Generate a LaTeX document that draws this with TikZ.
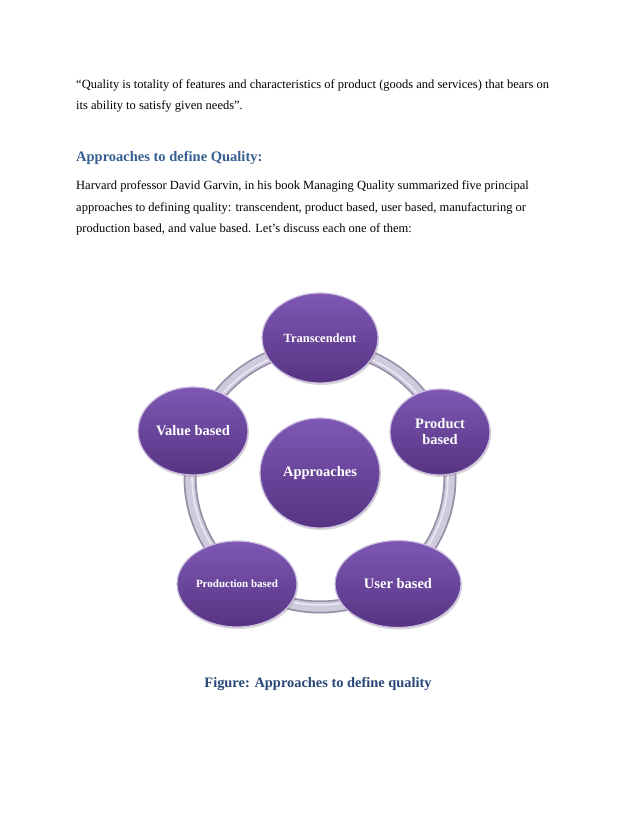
\documentclass[tikz,border=0pt]{standalone}
\usepackage{fontspec}
\setmainfont{Liberation Serif}
\usetikzlibrary{shapes.geometric,shadows}
\definecolor{headblue}{RGB}{54,95,145}
\definecolor{capblue}{RGB}{40,70,120}
\definecolor{plumtop}{RGB}{126,88,180}
\definecolor{plumbot}{RGB}{86,52,130}
\definecolor{plumrim}{RGB}{205,190,225}
\definecolor{ringmid}{RGB}{208,202,222}
\definecolor{ringedge}{RGB}{150,142,165}
\tikzset{
  bodytext/.style={anchor=base west,inner sep=0pt,align=left,font=\fontsize{12.5}{21.5}\selectfont},
  approach/.style={ellipse,draw=plumrim,line width=1.2pt,top color=plumtop,bottom color=plumbot,
    text=white,font=\bfseries,align=center,inner sep=0pt,
    drop shadow={opacity=0.3,shadow xshift=1pt,shadow yshift=-2pt}}
}
\begin{document}
\begin{tikzpicture}[x=1pt,y=-1pt]
      \useasboundingbox[fill=white] (0,0) rectangle (638,826);
      % text above the figure (base = last line)
      \node[bodytext] (quote) at (76,110) {``Quality is totality of features and characteristics of product (goods and services) that bears on\\its ability to satisfy given needs''.};
      \node[bodytext,font=\fontsize{14.5}{17}\selectfont\bfseries,text=headblue] (head) at (76,162) {Approaches to define Quality:};
      \node[bodytext] (para) at (76,233) {Harvard professor David Garvin, in his book Managing Quality summarized five principal\\approaches to defining quality: transcendent, product based, user based, manufacturing or\\production based, and value based. Let's discuss each one of them:};
      % ring behind the nodes
      \coordinate (ctr) at (320,477);
      \draw[ringedge,line width=13pt] (ctr) circle (130);
      \draw[ringmid,line width=9.5pt] (ctr) circle (130);
      \draw[white,opacity=0.6,line width=1.5pt] (ctr) circle (128);
      % nodes
      \node[approach,minimum width=120,minimum height=110,font=\bfseries\fontsize{14.5}{16}\selectfont] (appr) at (320,473) {Approaches};
      \node[approach,minimum width=116,minimum height=90,font=\bfseries\fontsize{12.5}{14}\selectfont] (trans) at (320,338) {Transcendent};
      \node[approach,minimum width=100,minimum height=86,font=\bfseries\fontsize{14.5}{16}\selectfont] (prod) at (440,432) {Product\\based};
      \node[approach,minimum width=126,minimum height=87,font=\bfseries\fontsize{14.5}{16}\selectfont] (user) at (398,584) {User based};
      \node[approach,minimum width=120,minimum height=86,font=\bfseries\fontsize{11}{13}\selectfont] (pbased) at (237,584) {Production based};
      \node[approach,minimum width=110,minimum height=88,font=\bfseries\fontsize{14.5}{16}\selectfont] (value) at (193,431) {Value based};
      % caption
      \node[anchor=base,inner sep=0pt,font=\fontsize{14.4}{16}\selectfont\bfseries,text=capblue] (cap) at (318,687) {Figure: Approaches to define quality};
\end{tikzpicture}
\end{document}
